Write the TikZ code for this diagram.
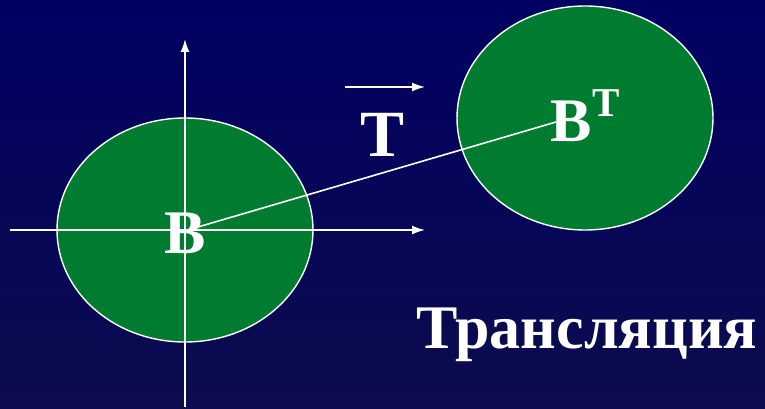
\documentclass[tikz,border=0pt]{standalone}
\usepackage{fontspec}
\setmainfont{Liberation Serif}
\usetikzlibrary{shapes.geometric,arrows.meta}
\definecolor{bgtop}{RGB}{0,0,98}
\definecolor{bgbottom}{RGB}{12,12,78}
\definecolor{blobgreen}{RGB}{0,124,48}
\begin{document}
\begin{tikzpicture}[x=1pt,y=-1pt,
    blob/.style={ellipse,draw=white,line width=1.4pt,fill=blobgreen,
      minimum width=256pt,minimum height=224pt,inner sep=0pt},
    axis/.style={white,line width=1.6pt,-{Latex[length=13pt,width=9pt]}},
    label/.style={text=white,font=\bfseries,anchor=base,inner sep=0pt}]
      \useasboundingbox[top color=bgtop,bottom color=bgbottom] (0,0) rectangle (765,409);
      \node[blob] (body) at (185,230) {};
      \node[blob] (moved) at (585,118) {};
      \coordinate (xstart) at (10,230);
      \coordinate (xend) at (425,230);
      \coordinate (ystart) at (185,407);
      \coordinate (yend) at (185,39);
      \coordinate (tstart) at (345,87);
      \coordinate (tend) at (425,87);
      \coordinate (from) at (198,227);
      \coordinate (to) at (556,122);
      \draw[axis] (xstart) -- (xend);
      \draw[axis] (ystart) -- (yend);
      \draw[axis] (tstart) -- (tend);
      \node[label,font=\bfseries\fontsize{62}{62}\selectfont] (b) at (185,253) {B};
      \node[label,font=\bfseries\fontsize{66}{66}\selectfont] (t) at (383,157) {T};
      \node[label,font=\bfseries\fontsize{62}{62}\selectfont] (bt) at (585,142)
        {B\raisebox{25pt}{\fontsize{41}{41}\selectfont T}};
      \node[label,font=\bfseries\fontsize{62}{62}\selectfont] (title) at (587,348) {Трансляция};
      \draw[white,line width=1.6pt] (from) -- (to);
    \end{tikzpicture}
\end{document}
